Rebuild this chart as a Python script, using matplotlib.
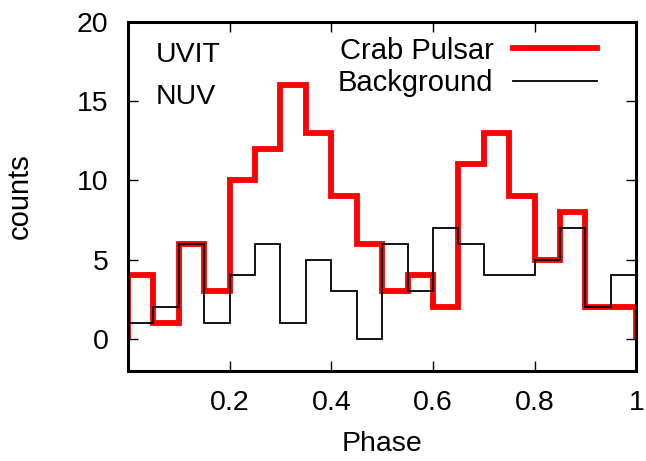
import numpy as np
import matplotlib.pyplot as plt

plt.rcParams['font.family'] = ['Liberation Sans', 'DejaVu Sans']

phase_edges = np.linspace(0.0, 1.0, 21)
crab = [4, 1, 6, 3, 10, 12, 16, 13, 9, 6, 3, 4, 2, 11, 13, 9, 5, 8, 2, 2]
background = [1, 2, 6, 1, 4, 6, 1, 5, 3, 0, 6, 3, 7, 6, 4, 4, 5, 7, 2, 4]

fig = plt.figure(figsize=(6.46, 4.61), dpi=100)
ax = fig.add_axes([0.198, 0.196, 0.787, 0.757])

ax.stairs(crab, phase_edges, baseline=0, color='#ff0000', lw=4.2, label='Crab Pulsar')
ax.stairs(background, phase_edges, baseline=None, color='black', lw=1.3, label='Background')

ax.set_xlim(0, 1)
ax.set_ylim(-2, 20)
ax.set_xticks([0.2, 0.4, 0.6, 0.8, 1.0])
ax.set_xticklabels(['0.2', '0.4', '0.6', '0.8', '1'])
ax.set_yticks([0, 5, 10, 15, 20])
ax.tick_params(direction='in', top=True, right=True, length=7, width=1, labelsize=20.5)
ax.tick_params(axis='x', pad=14)
ax.tick_params(axis='y', pad=14)
for s in ax.spines.values():
    s.set_linewidth(2.2)

ax.set_xlabel('Phase', fontsize=20.5, labelpad=11)
ax.set_ylabel('counts', fontsize=21, labelpad=31)

ax.text(0.055, 0.883, 'UVIT', transform=ax.transAxes, fontsize=20.5, va='baseline', ha='left')
ax.text(0.055, 0.763, 'NUV', transform=ax.transAxes, fontsize=20.5, va='baseline', ha='left')
ax.legend(loc='upper right', frameon=False, markerfirst=False, fontsize=21,
          handlelength=2.9, handletextpad=0.65, borderaxespad=0, borderpad=0,
          labelspacing=0.15, bbox_to_anchor=(0.923, 0.957))

fig.savefig('out.png', dpi=100)
